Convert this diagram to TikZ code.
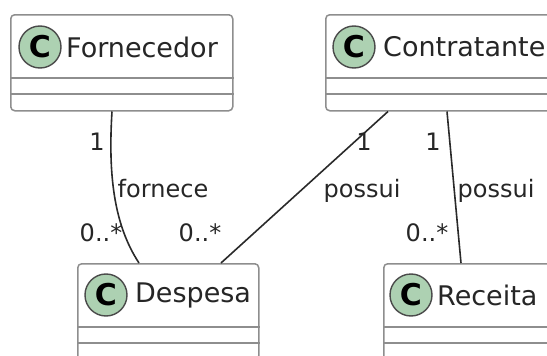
\documentclass[tikz,border=0pt]{standalone}
\usepackage{fontspec}
\setmainfont{DejaVu Sans}
\usepackage{tikz}
\usetikzlibrary{positioning}
\definecolor{classgreen}{HTML}{ADD1B2}
\definecolor{boxline}{HTML}{8E8E8E}
\definecolor{linkline}{HTML}{2A2A2A}

\tikzset{
    classbox/.style = {draw = boxline, line width = 1.5pt, rounded corners = 4pt, fill = white,
                       anchor = north west, minimum height = 96pt, inner sep = 0pt},
    classmark/.style = {circle, draw = linkline!85, line width = 1.4pt, fill = classgreen,
                        minimum size = 42pt, inner sep = 0pt, font = \fontsize{30}{30}\selectfont\bfseries},
    classname/.style = {anchor = west, inner sep = 0pt, font = \fontsize{27}{27}\selectfont, text = black!85},
    sepline/.style = {draw = boxline, line width = 1.8pt},
    link/.style = {draw = linkline, line width = 1.6pt},
    tag/.style = {anchor = base, inner sep = 0pt, font = \fontsize{24}{24}\selectfont, text = black!85}
}

\begin{document}
\begin{tikzpicture}[x = 1pt, y = -1pt]
    \useasboundingbox (0,0) rectangle (547,356);
    \clip (0,0) rectangle (547,356);

    % classes
    \node[classbox, minimum width = 222pt] (forn) at (10,14) {};
    \node[classbox, minimum width = 260pt] (contr) at (325,14) {};
    \node[classbox, minimum width = 181pt] (desp) at (77,263) {};
    \node[classbox, minimum width = 200pt] (rec) at (383,263) {};

    \draw[sepline] ([yshift = -64pt]forn.north west) -- ([yshift = -64pt]forn.north east);
    \draw[sepline] ([yshift = -80pt]forn.north west) -- ([yshift = -80pt]forn.north east);
    \draw[sepline] ([yshift = -64pt]contr.north west) -- ([yshift = -64pt]contr.north east);
    \draw[sepline] ([yshift = -80pt]contr.north west) -- ([yshift = -80pt]contr.north east);
    \draw[sepline] ([yshift = -64pt]desp.north west) -- ([yshift = -64pt]desp.north east);
    \draw[sepline] ([yshift = -80pt]desp.north west) -- ([yshift = -80pt]desp.north east);
    \draw[sepline] ([yshift = -64pt]rec.north west) -- ([yshift = -64pt]rec.north east);
    \draw[sepline] ([yshift = -80pt]rec.north west) -- ([yshift = -80pt]rec.north east);

    \node[classmark] (forn-c) at (40,47) {C};
    \node[classname] (forn-name) at (66,47) {Fornecedor};
    \node[classmark] (contr-c) at (354,47) {C};
    \node[classname] (contr-name) at (383,47) {Contratante};
    \node[classmark] (desp-c) at (106,295) {C};
    \node[classname] (desp-name) at (135,295) {Despesa};
    \node[classmark] (rec-c) at (411,295) {C};
    \node[classname] (rec-name) at (437,295) {Receita};

    % associations
    \draw[link] ([xshift = 102pt]forn.south west) .. controls (108,175) and (114,225) .. ([xshift = 62pt]desp.north west);
    \draw[link] ([xshift = 63pt]contr.south west) -- ([xshift = 144pt]desp.north west);
    \draw[link] ([xshift = 122pt]contr.south west) -- ([xshift = 78pt]rec.north west);

    \node[tag] (forn-one) at (97,150) {1};
    \node[tag] (forn-verb) at (163,197) {fornece};
    \node[tag] (forn-many) at (101,241) {0..*};
    \node[tag] (contr-one) at (364,150) {1};
    \node[tag] (contr-verb) at (362,197) {possui};
    \node[tag] (desp-many) at (200,241) {0..*};
    \node[tag] (rec-one) at (433,150) {1};
    \node[tag] (rec-verb) at (496,197) {possui};
    \node[tag] (rec-many) at (427,241) {0..*};
\end{tikzpicture}
\end{document}
